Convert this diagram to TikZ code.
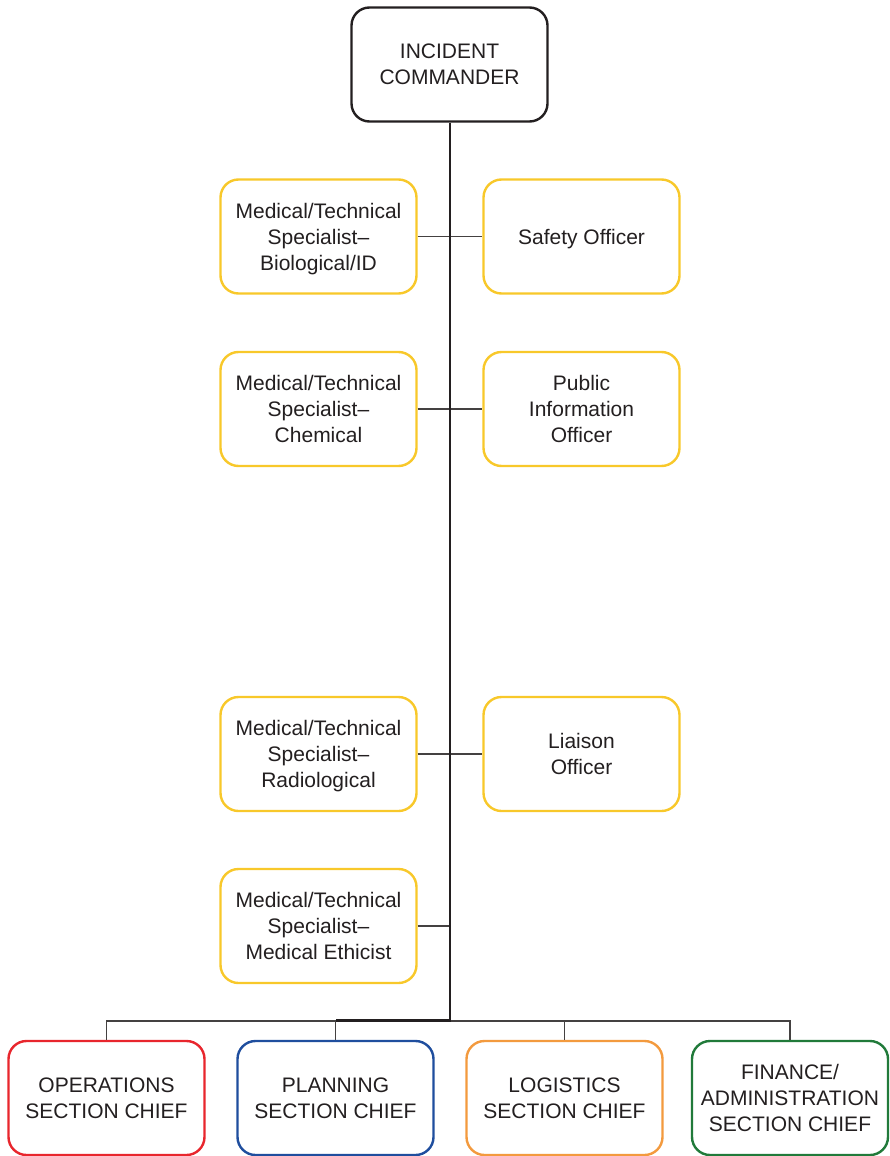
\documentclass[tikz,border=0pt]{standalone}
\usepackage{fontspec}
\setmainfont{Liberation Sans}
\definecolor{txt}{HTML}{231F20}
\definecolor{yel}{HTML}{F8C82A}
\definecolor{opred}{HTML}{E8262D}
\definecolor{plblue}{HTML}{1F4E9E}
\definecolor{logor}{HTML}{F39A3E}
\definecolor{fingr}{HTML}{217A3A}
\newcommand{\nodepth}[1]{\raisebox{0pt}[\height][0pt]{#1}}
\begin{document}
\begin{tikzpicture}[x=1pt,y=-1pt,
  box/.style={rectangle, rounded corners=18pt, minimum width=196pt, minimum height=114pt,
    line width=2.4pt, align=center, text=txt, font=\fontsize{21}{26}\selectfont, fill=white},
  ybox/.style={box, draw=yel},
  thickline/.style={line width=2.4pt, draw=txt},
  thinline/.style={line width=1.2pt, draw=txt!85}]
\useasboundingbox (0,0) rectangle (889,1156);
\clip (0,0) rectangle (889,1156);

\node[box, draw=txt] (ic) at (449.5,64.5) {INCIDENT\\COMMANDER};

\node[ybox] (bio) at (318.5,236.5) {Medical/Technical\\Specialist–\\\nodepth{Biological/ID}};
\node[ybox] (safe) at (581.5,236.5) {\nodepth{Safety Officer}};
\node[ybox] (chem) at (318.5,409) {Medical/Technical\\Specialist–\\Chemical};
\node[ybox] (pio) at (581.5,409) {Public\\Information\\Officer};
\node[ybox] (rad) at (318.5,754) {Medical/Technical\\Specialist–\\\nodepth{Radiological}};
\node[ybox] (liai) at (581.5,754) {Liaison\\Officer};
\node[ybox] (eth) at (318.5,926) {Medical/Technical\\Specialist–\\Medical Ethicist};

\node[box, draw=opred] (ops) at (106.5,1098) {OPERATIONS\\SECTION CHIEF};
\node[box, draw=plblue] (plan) at (335.5,1098) {PLANNING\\SECTION CHIEF};
\node[box, draw=logor] (log) at (564.5,1098) {LOGISTICS\\SECTION CHIEF};
\node[box, draw=fingr] (fin) at (790,1098) {FINANCE/\\ADMINISTRATION\\SECTION CHIEF};

\coordinate (busc) at (450,1020.5);
\coordinate (bl) at (106.5,1021);
\coordinate (br) at (790,1021);

% side connectors
\draw[thinline] (bio.east) -- (safe.west);
\draw[thinline] (chem.east) -- (pio.west);
\draw[thinline] (rad.east) -- (liai.west);
\draw[thinline] (eth.east) -- (eth.east -| busc);

% bus
\draw[thinline] (ops.north) -- (bl) -- (br) -- (fin.north);
\draw[thinline] (plan.north) -- (plan.north |- bl);
\draw[thinline] (log.north) -- (log.north |- bl);

% trunk
\draw[thickline] (ic.south -| busc) -- (busc) -- (busc -| plan.north);
\end{tikzpicture}
\end{document}
